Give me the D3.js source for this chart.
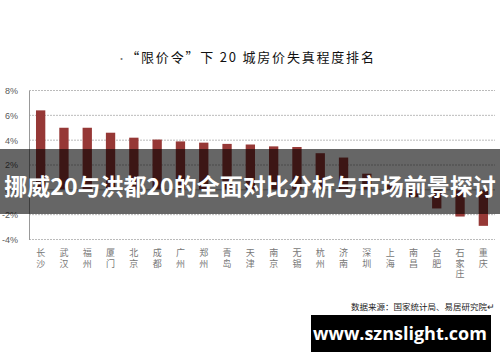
<!DOCTYPE html>
<html lang="zh">
<head>
<meta charset="utf-8">
<style>
	body { margin: 0; background: #fff; }
	svg { display: block; }
	text { font-family: "Noto Sans CJK SC", sans-serif; }
</style>
</head>
<body>
<script src="https://d3js.org/d3.v7.min.js"></script>
<script>
// 20 城房价失真程度（%）
var cities = ["长沙","武汉","福州","厦门","北京","成都","广州","郑州","青岛","天津",
	"南京","无锡","杭州","济南","深圳","上海","南昌","合肥","石家庄","重庆"];
var values = [6.4, 5.0, 5.0, 4.6, 4.2, 4.05, 3.9, 3.8, 3.7, 3.65,
	3.5, 3.45, 2.95, 2.6, 1.3, 0.4, -0.6, -1.5, -2.15, -2.9];
var yTicks = [-4, -2, 0, 2, 4, 6, 8];

var title = "“限价令”下 20 城房价失真程度排名";
var banner = "挪威20与洪都20的全面对比分析与市场前景探讨";
var source = "数据来源：国家统计局、易居研究院↵";
var site = "www.sznslight.com";

var width = 500, height = 362;
var svg = d3.select("body").append("svg")
	.attr("width", width)
	.attr("height", height);

var x = d3.scaleBand().domain(cities).range([29, 495]).paddingInner(0.6).paddingOuter(0.3);
var y = d3.scaleLinear().domain([-4, 8]).range([239.5, 90.5]);

// titre
svg.append("text")
	.attr("x", 117).attr("y", 62)
	.style("font-size", "9px").style("fill", "#777")
	.text("·");
svg.append("text")
	.attr("x", 251).attr("y", 62)
	.attr("text-anchor", "middle")
	.style("font-size", "13px").style("fill", "#111")
	.style("letter-spacing", "1.8px")
	.text(title);

// grille
svg.append("g")
	.selectAll("line")
	.data(yTicks.filter(function (d) { return d !== 0; }))
	.enter().append("line")
	.attr("x1", 29).attr("x2", 495)
	.attr("y1", function (d) { return y(d); })
	.attr("y2", function (d) { return y(d); })
	.style("stroke", "#bbb")
	.style("stroke-width", 1)
	.style("stroke-dasharray", "2,1");

// axe y
var yAxis = svg.append("g")
	.attr("transform", "translate(29,0)")
	.call(d3.axisLeft(y).tickValues(yTicks).tickSize(0).tickPadding(11)
		.tickFormat(function (d) { return d + "%"; }));
yAxis.select(".domain").style("stroke", "#999");
yAxis.selectAll("text")
	.style("font-family", "'Liberation Sans', sans-serif")
	.style("font-size", "9px")
	.style("fill", "#595959");

// barres
svg.append("g")
	.selectAll("rect")
	.data(values)
	.enter().append("rect")
	.attr("x", function (d, i) { return x(cities[i]); })
	.attr("width", x.bandwidth())
	.attr("y", function (d) { return y(Math.max(0, d)); })
	.attr("height", function (d) { return Math.abs(y(d) - y(0)); })
	.style("fill", "#963836");

// ligne zéro
svg.append("line")
	.attr("x1", 29).attr("x2", 495)
	.attr("y1", y(0)).attr("y2", y(0))
	.style("stroke", "#aaa");

// libellés verticaux
var labels = svg.append("g")
	.selectAll("text")
	.data(cities)
	.enter().append("text")
	.attr("text-anchor", "middle")
	.style("font-size", "9px")
	.style("fill", "#777");
labels.each(function (c) {
	var t = d3.select(this);
	c.split("").forEach(function (ch, j) {
		t.append("tspan")
			.attr("x", x(c) + x.bandwidth() / 2)
			.attr("y", 256 + j * 10.5)
			.text(ch);
	});
});

// source
svg.append("text")
	.attr("x", 495).attr("y", 310)
	.attr("text-anchor", "end")
	.style("font-size", "8.5px").style("fill", "#222")
	.text(source);

// bandeau
svg.append("rect")
	.attr("x", 0).attr("y", 149)
	.attr("width", width).attr("height", 65)
	.style("fill", "rgba(0,0,0,0.6)");
svg.append("text")
	.attr("x", 250).attr("y", 195)
	.attr("text-anchor", "middle")
	.style("font-size", "23px").style("font-weight", "bold")
	.style("fill", "#fff")
	.text(banner);

// site
svg.append("rect")
	.attr("x", 311).attr("y", 315)
	.attr("width", 180).attr("height", 37)
	.style("fill", "#000");
svg.append("text")
	.attr("x", 400).attr("y", 340)
	.attr("text-anchor", "middle")
	.style("font-family", "'Open Sans', sans-serif")
	.style("font-size", "18px").style("font-weight", "bold")
	.style("fill", "#fff")
	.text(site);
</script>
</body>
</html>
